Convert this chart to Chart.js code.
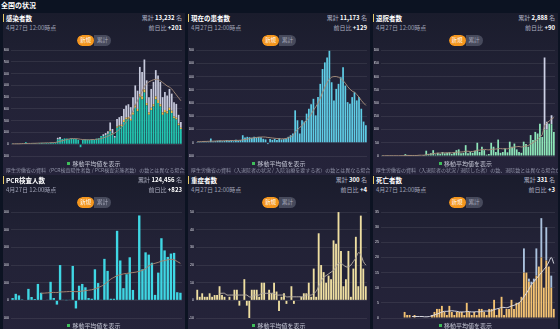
<!DOCTYPE html>
<html>
<head>
<meta charset="utf-8">
<title>全国の状況</title>
<script src="https://cdn.jsdelivr.net/npm/chart.js"></script>
<style>
  body { margin:0; width:560px; height:329px; overflow:hidden; position:relative;
         background:#0c1322; color:#fff; font-family:"Noto Sans CJK JP","Noto Sans",sans-serif; }
  .top { position:absolute; left:1px; top:0px; font-size:7px; font-weight:bold; line-height:10px; }
  .panel { position:absolute; height:162px; overflow:hidden;
           background:linear-gradient(180deg,#1a1c2c 0%,#222236 40%,#25233a 100%); }
  .panel canvas { position:absolute; left:1px; top:33px; }
  .ttl { position:absolute; left:0; top:1px; font-size:6.5px; font-weight:bold; line-height:8px;
         border-left:1px solid #e6c766; padding-left:2px; }
  .sub { position:absolute; left:3px; top:11px; font-size:6px; color:#9ea0b4; line-height:8px; }
  .sum, .diff { position:absolute; right:3px; font-size:6px; color:#aeb0c2; line-height:8px; }
  .sum { top:1px; } .diff { top:11px; }
  .sum b, .diff b { color:#fff; }
  .tog { position:absolute; top:22px; left:50%; transform:translateX(-50%); height:11px; display:flex;
         border-radius:6px; overflow:hidden; font-size:5.5px; line-height:11px; }
  .tog span { display:block; width:17px; text-align:center; }
  .tog .on { background:#f4961e; color:#fff; border-radius:6px; }
  .tog .off { background:#474a5c; color:#a9abbc; }
  .lg { position:absolute; top:147px; left:0; right:0; text-align:center; font-size:6px; color:#c4c6d4; line-height:8px; }
  .lg i { display:inline-block; width:3px; height:3px; background:#3fbf5a; margin-right:2px; vertical-align:1px; }
  .note { position:absolute; top:153px; left:3px; right:2px; font-size:5px; color:#8f92a6; white-space:nowrap; line-height:8px; }
</style>
</head>
<body>
<div class="top">全国の状況</div>
<script>
const dates = ['2/13','2/14','2/15','2/16','2/17','2/18','2/19','2/20','2/21','2/22','2/23','2/24','2/25','2/26','2/27','2/28','2/29',
  '3/1','3/2','3/3','3/4','3/5','3/6','3/7','3/8','3/9','3/10','3/11','3/12','3/13','3/14','3/15','3/16','3/17','3/18','3/19','3/20',
  '3/21','3/22','3/23','3/24','3/25','3/26','3/27','3/28','3/29','3/30','3/31',
  '4/1','4/2','4/3','4/4','4/5','4/6','4/7','4/8','4/9','4/10','4/11','4/12','4/13','4/14','4/15','4/16','4/17','4/18','4/19','4/20',
  '4/21','4/22','4/23','4/24','4/25','4/26','4/27'];

// 感染者数
const casesTeal = [3,4,2,5,3,6,18,4,6,8,9,7,10,12,9,11,10,14,12,16,
  40,45,45,50,48,42,50,46,44,38,-25,36,42,40,38,44,36,48,52,70,
  70,75,85,110,90,55,140,150,155,190,210,215,200,250,310,280,400,380,440,330,
  250,290,320,380,350,320,250,270,260,290,265,220,210,160,130];
const casesYellow = [0,0,0,0,0,0,0,0,0,0,0,0,0,0,0,0,0,0,0,0,
  0,0,0,0,0,0,0,0,0,0,0,0,0,0,0,0,0,0,0,0,
  0,0,5,10,5,0,10,10,10,15,15,15,15,20,20,20,25,25,25,20,
  20,20,20,25,25,20,20,20,20,20,20,15,15,15,10];
const casesGray = [0,0,0,0,0,0,0,0,0,0,0,0,0,0,0,0,0,0,0,0,
  15,17,0,0,0,0,0,0,0,0,0,0,0,0,0,0,0,0,0,0,
  15,20,20,65,35,15,65,70,75,95,105,110,100,130,170,155,232,209,255,193,
  130,160,190,225,210,190,130,153,134,160,145,122,118,75,50];
const casesAvg = [4,4,4,4,5,6,6,7,7,8,8,9,10,10,11,12,12,13,14,15,
  20,25,30,35,40,45,48,48,47,46,42,40,38,38,38,40,40,42,44,48,
  55,60,68,78,85,95,110,125,145,165,190,215,245,285,330,370,410,450,490,515,
  530,540,548,552,550,540,525,510,495,485,470,445,420,395,370];

// 現在の患者数
const patients = [5,8,6,10,8,9,32,10,12,15,18,12,15,20,14,18,12,22,16,20,
  57,40,45,42,38,45,40,44,42,30,25,-10,28,22,30,20,35,25,28,32,
  45,57,70,245,170,70,170,160,220,257,290,332,207,345,445,557,607,645,695,457,
  320,407,445,495,570,432,307,295,345,382,320,345,257,160,132];
const patientsAvg = [8,8,9,10,10,11,12,12,13,14,14,15,15,16,16,17,17,18,18,19,
  22,25,28,32,35,38,40,42,43,44,43,40,38,36,34,32,30,30,30,32,
  38,45,55,80,100,115,130,150,170,190,215,245,270,300,335,380,420,455,480,495,
  500,500,495,485,470,450,425,405,390,382,365,345,320,300,282];

// 退院者数
const dischargedGreen = [1,0,1,0,1,0,2,0,1,0,7,4,2,3,1,2,3,2,4,20,
  8,10,22,6,12,8,15,10,12,14,8,12,22,25,10,12,41,10,15,12,
  20,50,15,35,22,5,8,50,35,15,62,12,15,28,14,54,35,47,25,15,
  12,54,45,35,79,60,91,85,122,72,100,100,122,120,91];
const dischargedGray = [0,0,0,0,0,0,0,0,0,0,0,0,0,0,0,0,0,0,0,0,
  0,0,0,0,0,0,0,0,0,0,0,0,0,0,0,0,0,0,0,0,
  0,0,0,0,0,0,0,0,0,0,0,0,0,0,0,0,0,0,0,0,
  0,0,0,0,0,0,0,0,0,0,272,29,0,34,0];
const dischargedAvg = [1,1,1,1,1,1,1,1,1,1,2,2,2,2,2,2,3,3,3,5,
  6,7,9,10,11,11,12,12,12,12,12,13,14,15,15,16,18,18,17,17,
  19,22,22,24,25,24,23,25,26,26,28,28,27,28,27,30,32,34,35,36,
  34,36,38,40,45,50,56,62,72,80,115,125,132,140,145];

// PCR検査人数
const pcr = [260,740,560,100,60,1300,380,150,1860,860,
  60,40,2100,260,-480,4000,40,20,40,3900,
  -920,1660,1860,1480,260,180,3520,1960,40,4700,
  3340,180,180,7880,4520,1380,2960,4880,1180,40,
  9620,3520,5440,5180,4260,620,3140,7040,5660,4920,
  5300,5380,920,860];
const pcrAvg = [null,null,null,null,null,null,null,null,null,800,
  820,850,880,900,880,950,960,980,1000,1000,
  980,1000,1050,1100,1150,1200,1300,1450,1600,1800,
  2100,2400,2600,2800,2900,3000,3050,3100,3150,3200,
  3300,3400,3600,3900,4100,4200,4300,4450,4500,4600,
  4650,4600,4400,4200];

// 重症者数
const severe = [6,2,4,2,2,4,2,3,3,8,3,2,0,2,0,6,6,-3,0,12,
  -3,-10,6,6,6,2,10,10,0,6,4,10,5,-6,2,4,-2,0,8,-2,
  0,0,2,4,4,10,2,18,2,38,20,16,10,14,12,34,32,50,28,8,
  12,28,2,18,36,8,48,18,8];
const severeAvg = [null,null,null,null,null,null,null,null,null,4,4,4,3,3,3,3,3,3,3,3,
  3,2,2,3,3,3,4,4,4,4,4,4,3,3,3,3,2,2,2,2,
  2,2,2,2,3,3,3,4,5,8,11,13,14,15,16,17,19,21,21,20,
  19,19,20,22,24,27,26,22,20];

// 死亡者数
const deathsOrange = [0,0,0,0,0,0,0,0,0,2,1,1,0,1,0,0,0,0,0,0,
  1,2,3,3,4,2,1,4,2,1,2,2,2,1,5,2,1,2,1,3,
  3,2,1,3,3,6,1,3,7,1,3,3,6,3,5,5,7,15,15,12,
  11,12,14,17,20,10,19,17,10,3];
const deathsBlue = [0,0,0,0,0,0,0,0,0,0,0,0,0,0,0,0,0,0,0,0,
  0,0,0,0,0,0,0,0,0,0,0,0,0,0,0,0,0,0,0,0,
  0,0,0,0,0,0,0,0,0,0,0,0,0,0,0,0,0,8,0,1,
  1,1,9,0,13,0,11,0,4,0];
const deathsAvg = [null,null,null,null,null,null,null,null,null,null,null,null,0.5,0.5,0.5,0.5,0.5,0.4,0.4,0.5,
  0.8,1,1.3,1.6,2,2.2,2.2,2.3,2.4,2.3,2.2,2,2,2,2.2,2.1,2,2,2.1,2,
  2.2,2.3,2.3,2.3,2.4,2.8,3,3.2,3.5,3.5,3.4,3.6,4,4.2,4.5,5,5.8,7,8.2,9.5,
  11,12,13,14,15,16,17,18.5,20,18];

function addPanel(p) {
  const el = document.createElement('div');
  el.className = 'panel';
  el.style.left = p.x + 'px';
  el.style.top = p.y + 'px';
  el.style.width = p.w + 'px';
  el.innerHTML =
    '<div class="ttl">' + p.title + '</div>' +
    '<div class="sub">4月27日 12:00時点</div>' +
    '<div class="sum">累計 <b>' + p.total + '</b> 名</div>' +
    '<div class="diff">前日比 <b>' + p.diff + '</b></div>' +
    '<div class="tog"><span class="on">新規</span><span class="off">累計</span></div>' +
    '<canvas width="' + (p.w - 4) + '" height="116"></canvas>' +
    '<div class="lg"><i></i>移動平均値を表示</div>' +
    '<div class="note">' + p.note + '</div>';
  document.body.appendChild(el);
  return el.querySelector('canvas');
}

function drawChart(canvas, labels, bars, avg, avgColor, min, max, step) {
  const datasets = [{
    type: 'line', data: avg, borderColor: avgColor, borderWidth: 1,
    pointRadius: 0, tension: 0.35, stack: 'avg', order: 0
  }];
  bars.forEach(b => datasets.push({
    type: 'bar', data: b.data, backgroundColor: b.color, borderWidth: 0,
    barPercentage: 0.75, categoryPercentage: 1, stack: 'bars', order: 1
  }));
  new Chart(canvas, {
    type: 'bar',
    data: { labels: labels, datasets: datasets },
    options: {
      responsive: false,
      animation: false,
      layout: { padding: { top: 2, bottom: 1, left: 0, right: 0 } },
      plugins: { legend: { display: false }, tooltip: { enabled: false } },
      scales: {
        x: {
          stacked: true,
          grid: { display: false },
          border: { display: false },
          ticks: { color: '#c9cbd6', font: { size: 3.5 }, maxRotation: 0, autoSkipPadding: 3, padding: 1 },
          afterFit: s => { s.height = 5; }
        },
        y: {
          stacked: true, min: min, max: max,
          grid: { color: 'rgba(255,255,255,0.08)', drawTicks: false },
          border: { display: false },
          ticks: { stepSize: step, color: '#e2e2ea', font: { size: 3.5 }, padding: 2 },
          afterFit: s => { s.width = 7; }
        }
      }
    }
  });
}

const c1 = addPanel({ x: 3, y: 13, w: 182, title: '感染者数', total: '13,232', diff: '+201',
  note: '厚生労働省の資料（PCR検査陽性者数 / PCR検査実施者数）の数とは異なる場合があります' });
const c2 = addPanel({ x: 188, y: 13, w: 182, title: '現在の患者数', total: '11,173', diff: '+129',
  note: '厚生労働省の資料（入退院者の状況 / 入院治療を要する者）の数とは異なる場合があります' });
const c3 = addPanel({ x: 373, y: 13, w: 185, title: '退院者数', total: '2,888', diff: '+90',
  note: '厚生労働省の資料（入退院者の状況 / 退院した者）の数、退院数とは異なる場合があります' });
const c4 = addPanel({ x: 3, y: 175, w: 182, title: 'PCR検査人数', total: '124,456', diff: '+823',
  note: '厚生労働省の資料（PCR検査実施人数）の数とは異なる場合があります' });
const c5 = addPanel({ x: 188, y: 175, w: 182, title: '重症者数', total: '300', diff: '+4',
  note: '厚生労働省の資料（入退院者の状況 / 重症者）の数とは異なる場合があります' });
const c6 = addPanel({ x: 373, y: 175, w: 185, title: '死亡者数', total: '331', diff: '+3',
  note: '厚生労働省の資料（死亡者数）の数とは異なる場合があります' });

drawChart(c1, dates, [
  { data: casesTeal, color: '#22c8b2' },
  { data: casesYellow, color: '#f1c94f' },
  { data: casesGray, color: '#c6c9dc' }
], casesAvg, '#9c8676', -100, 800, 100);

drawChart(c2, dates, [
  { data: patients, color: '#5fcde6' }
], patientsAvg, '#a38b79', -100, 700, 100);

drawChart(c3, dates, [
  { data: dischargedGreen, color: '#8ee6b9' },
  { data: dischargedGray, color: '#cdd1e6' }
], dischargedAvg, '#a38b79', 0, 400, 50);

drawChart(c4, dates.slice(-54), [
  { data: pcr, color: '#3fd7e4' }
], pcrAvg, '#a3826e', -2000, 10000, 2000);

drawChart(c5, dates.slice(-69), [
  { data: severe, color: '#efdfa2' }
], severeAvg, '#b3aaa0', -10, 50, 10);

drawChart(c6, dates.slice(-70), [
  { data: deathsOrange, color: '#f3c272' },
  { data: deathsBlue, color: '#abc2de' }
], deathsAvg, '#d8d8e0', 0, 35, 5);
</script>
</body>
</html>
